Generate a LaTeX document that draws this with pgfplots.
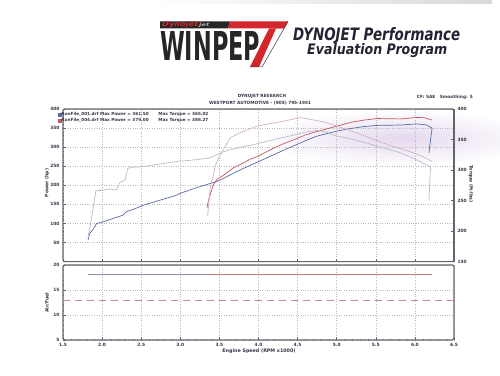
\documentclass[border=0pt]{standalone}
\usepackage{fontspec}
\setmainfont{DejaVu Sans}
\usepackage{graphicx}
\usepackage{pgfplots}
\pgfplotsset{compat=1.18}
\definecolor{pw1}{RGB}{88,108,160}
\definecolor{pw4}{RGB}{200,88,95}
\definecolor{tq1}{RGB}{185,189,203}
\definecolor{tq4}{RGB}{210,180,192}
\definecolor{af1}{RGB}{140,150,178}
\definecolor{af4}{RGB}{205,125,125}
\definecolor{afd}{RGB}{195,140,148}
\definecolor{axc}{RGB}{100,100,110}
\definecolor{labc}{RGB}{55,55,70}
\definecolor{lav}{RGB}{228,216,238}
\definecolor{logored}{RGB}{210,40,45}
\definecolor{headc}{RGB}{35,35,50}
\pgfplotsset{
  common/.style={
    scale only axis, width=391pt,
    xmin=1.5, xmax=6.5,
    axis line style={draw=axc, line width=1.1pt, rounded corners=1.5pt},
    tick style={draw=axc, line width=0.45pt},
    tick align=inside,
    major tick length=2.6pt, minor tick length=1.4pt,
    ticklabel style={font=\fontsize{4.4}{5}\selectfont\bfseries, text=labc},
    /pgf/number format/assume math mode=true,
    grid style={dotted, gray!55, line width=0.45pt},
  }
}
\begin{document}
\begin{tikzpicture}
\useasboundingbox (0,0) rectangle (500pt,375pt);
\fill[white] (0,0) rectangle (500pt,375pt);
\shade[inner color=lav, outer color=white] (400pt,237pt) ellipse (140pt and 28pt);
\shade[left color=white, right color=gray!30] (150pt,371pt) rectangle (492pt,375pt);

\begin{scope}[x=1pt, y=-1pt, shift={(0pt,375pt)}]
  % logo top bar
  \fill[black!85] (160,21.5) -- (230,21.5) -- (228,28.5) -- (160,28.5) -- cycle;
  \fill[logored] (230,21.5) -- (288,21.5) -- (284,28.5) -- (228,28.5) -- cycle;
  \node[anchor=west, inner sep=0, text=logored] at (162,25)
    {\resizebox{36pt}{5pt}{\bfseries\itshape Dynojet}};
  \node[anchor=west, inner sep=0, text=gray!60] at (199,25)
    {\resizebox{10pt}{3.5pt}{\bfseries\itshape jet}};
  % 7 stem
  \fill[logored] (288,21.5) -- (276,28.5) -- (259,67) -- (250,67) -- (269,28.5) -- (284,28.5) -- cycle;
  \draw[black!80, line width=0.5pt] (288,21.5) -- (262,67) -- (250,67);
  % WINPEP
  \node[anchor=south west, inner sep=0, text=black!85] at (160,60.5)
    {\resizebox{100pt}{29pt}{\bfseries WINPEP}};
  % title text
  \node[anchor=base west, inner sep=0, text=headc] at (293,40.5)
    {\resizebox{167pt}{13pt}{\bfseries\itshape DYNOJET Performance}};
  \node[anchor=base west, inner sep=0, text=headc] at (307,55)
    {\resizebox{140pt}{11pt}{\bfseries\itshape Evaluation Program}};
  % chart header
  \node[text=labc, font=\fontsize{4.3}{5}\selectfont\bfseries] at (262,96.8) {DYNOJET RESEARCH};
  \node[text=labc, font=\fontsize{4.3}{5}\selectfont\bfseries] at (260,102.8) {WESTPORT AUTOMOTIVE - (905) 795-1951};
  \node[anchor=east, text=labc, font=\fontsize{4.3}{5}\selectfont\bfseries, inner sep=0] at (473,97.5) {CF: SAE\hspace{3pt} Smoothing: 5};
  % axis labels
  \node[rotate=90, text=labc, font=\fontsize{4.6}{5}\selectfont\bfseries] at (47,183) {Power (hp)};
  \node[rotate=-90, text=labc, font=\fontsize{4.6}{5}\selectfont\bfseries] at (471,184) {Torque (ft-lbs)};
  \node[rotate=90, text=labc, font=\fontsize{4.6}{5}\selectfont\bfseries] at (47,303) {Air/Fuel};
  \node[text=labc, font=\fontsize{4.8}{5}\selectfont\bfseries] at (259,351) {Engine Speed (RPM x1000)};
\end{scope}

% ---------- top panel, power (left axis)
\begin{axis}[common,
  at={(63pt,113.4pt)}, anchor=south west, height=152.6pt,
  ymin=0, ymax=400,
  xtick={1.5,2,...,6.5}, xticklabels={}, xtick pos=bottom,
  ytick={50,100,...,400}, minor y tick num=4, ytick pos=left,
  grid=major,
  legend style={at={(axis cs:1.43,393)}, anchor=north west, draw=none, fill=none,
    font=\fontsize{4.2}{5}\selectfont\bfseries, inner sep=0pt, row sep=0.4pt,
    nodes={inner sep=0.3pt, text=labc}},
  legend cell align=left,
]
\addlegendimage{legend image code/.code={\fill[pw1] (0pt,-1.5pt) rectangle (3pt,1.5pt);}}
\addlegendentry{\makebox[97pt][l]{RunFile\_001.drf Max Power = 361.50}Max Torque = 365.02}
\addlegendimage{legend image code/.code={\fill[pw4] (0pt,-1.5pt) rectangle (3pt,1.5pt);}}
\addlegendentry{\makebox[97pt][l]{RunFile\_004.drf Max Power = 379.00}Max Torque = 386.27}
\addplot[pw1, line width=0.7pt, forget plot] coordinates {
(1.82,56) (1.84,74) (1.88,83) (1.93,100) (2.01,104) (2.14,113) (2.27,122) (2.31,131)
(2.40,137) (2.53,148) (2.74,161) (2.95,174) (3.00,179) (3.21,194) (3.45,209) (3.55,218)
(3.72,236) (3.89,252) (4.15,276) (4.32,292) (4.50,308) (4.66,322) (4.75,329) (5.00,342)
(5.18,349) (5.35,354) (5.52,357) (5.82,358) (6.03,361) (6.15,358) (6.22,350) (6.20,320) (6.18,285)};
\addplot[pw4, line width=0.7pt, forget plot] coordinates {
(3.34,140) (3.36,160) (3.38,174) (3.42,200) (3.47,216) (3.55,226) (3.68,246) (3.80,258)
(3.89,268) (3.98,275) (4.19,297) (4.32,309) (4.41,316) (4.60,332) (4.75,341) (5.00,355)
(5.18,365) (5.35,371) (5.52,375) (5.82,374) (6.03,378) (6.12,377) (6.22,371)};
\end{axis}

% ---------- top panel, torque (right axis)
\begin{axis}[common,
  at={(63pt,113.4pt)}, anchor=south west, height=152.6pt,
  ymin=150, ymax=400,
  axis x line=none, axis y line*=right,
  ytick={150,200,...,400}, minor y tick num=4,
]
\addplot[tq1, line width=0.7pt] coordinates {
(1.82,189) (1.85,210) (1.88,233) (1.92,266) (2.01,267) (2.10,269) (2.18,267) (2.23,280)
(2.29,283) (2.33,303) (2.40,305) (2.48,305) (2.65,308) (2.95,314) (3.21,317) (3.38,320)
(3.55,330) (3.76,337) (3.98,343) (4.20,350) (4.41,356) (4.60,362) (4.75,365) (4.88,362)
(4.96,357) (5.18,351) (5.39,344) (5.60,336) (5.82,328) (6.00,318) (6.20,305) (6.19,280) (6.18,250)};
\addplot[tq4, line width=0.7pt] coordinates {
(3.35,225) (3.38,269) (3.45,308) (3.51,325) (3.64,353) (3.76,361) (3.98,372) (4.24,378)
(4.54,386) (4.83,379) (5.00,372) (5.18,364) (5.40,354) (5.60,344) (5.94,330) (6.10,322) (6.22,314)};
\end{axis}

% ---------- bottom panel, air/fuel
\begin{axis}[common,
  at={(63pt,35pt)}, anchor=south west, height=75pt,
  ymin=5, ymax=20,
  xtick={1.5,2,...,6.5}, minor x tick num=4, xtick pos=bottom,
  ytick={5,10,15,20}, minor y tick num=4, ytick pos=left,
  xticklabel style={/pgf/number format/.cd, fixed, fixed zerofill, precision=1},
  grid=major,
]
\addplot[af1, line width=0.7pt] coordinates {(1.82,18.1) (6.22,18.1)};
\addplot[af4, line width=0.6pt] coordinates {(3.34,18.1) (6.22,18.1)};
\addplot[afd, line width=0.7pt, dash pattern=on 7pt off 5pt] coordinates {(1.5,13) (6.5,13)};
\end{axis}
\end{tikzpicture}
\end{document}
